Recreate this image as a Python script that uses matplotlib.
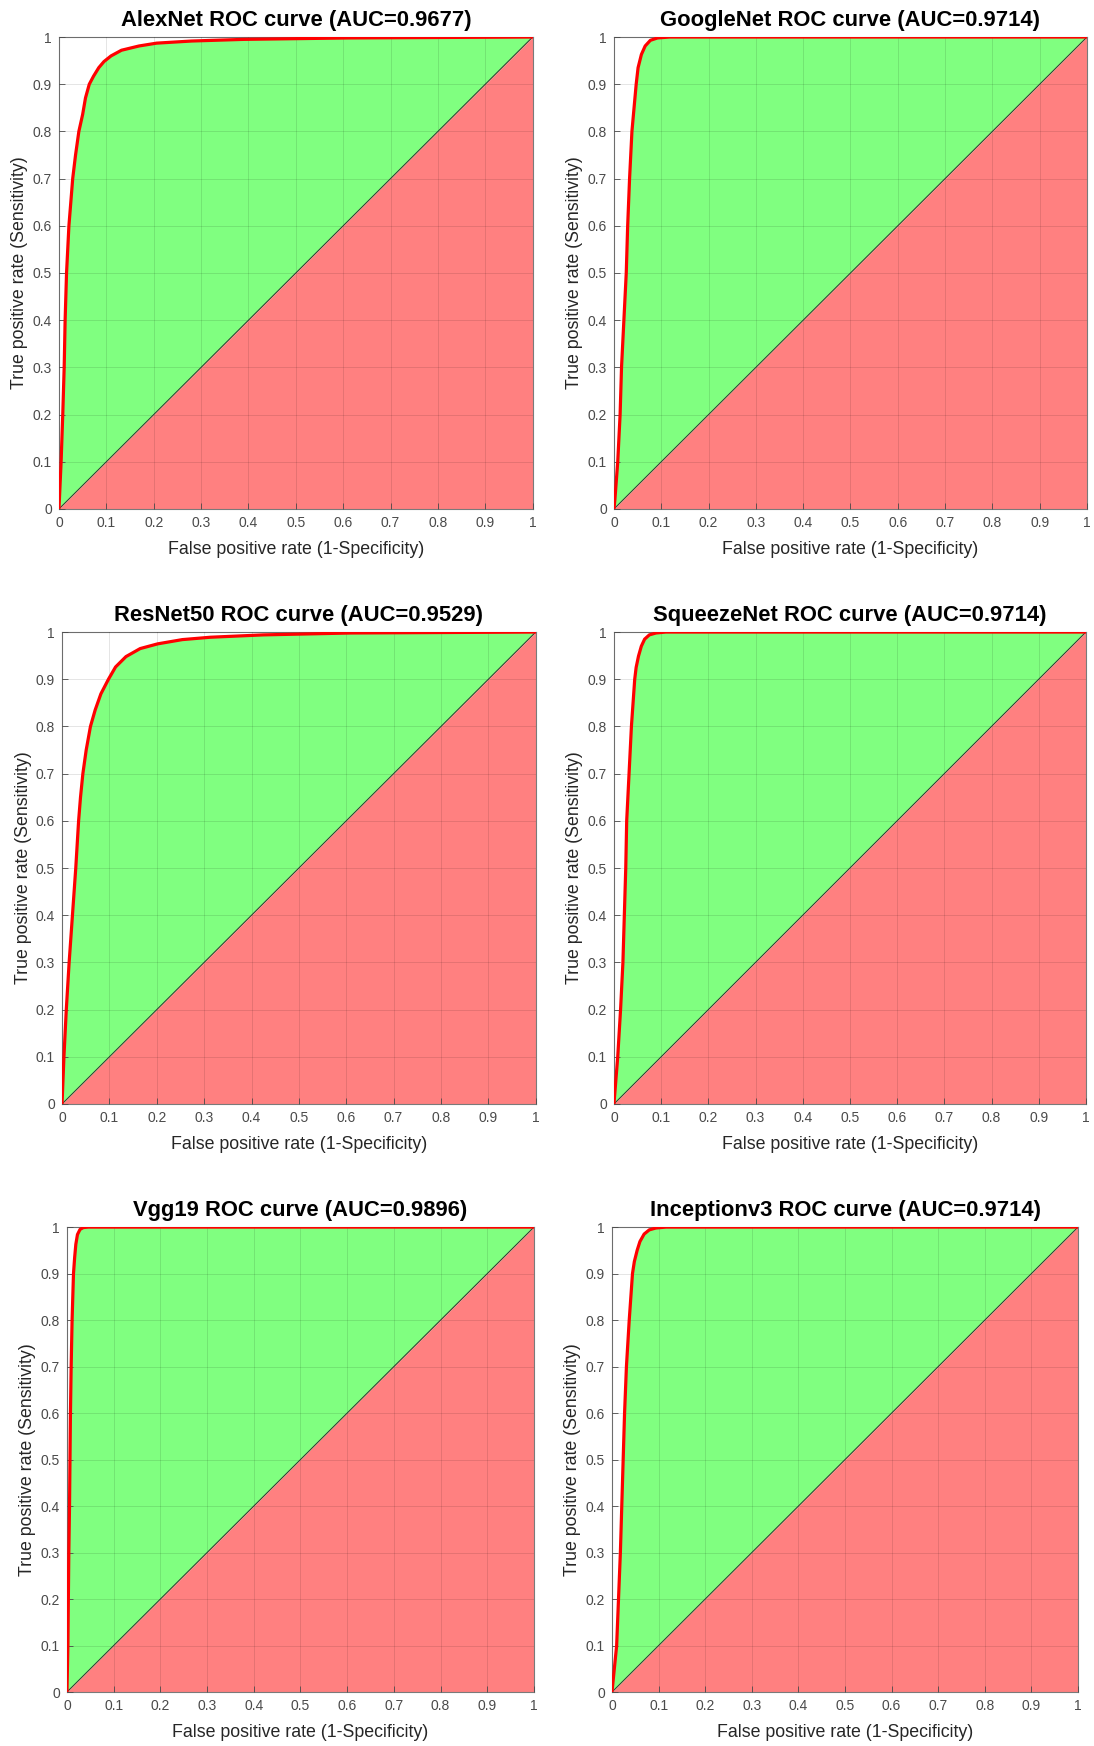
import numpy as np
import matplotlib.pyplot as plt

plt.rcParams['font.family'] = ['Liberation Sans', 'DejaVu Sans']

# model names and AUC values shown in the titles
MODELS = ['AlexNet', 'GoogleNet', 'ResNet50', 'SqueezeNet', 'Vgg19', 'Inceptionv3']
AUC = ['0.9677', '0.9714', '0.9529', '0.9714', '0.9896', '0.9714']

# ROC curve points (false positive rate, true positive rate)
alexnet_fpr = [0, .0045, .008, .011, .013, .016, .021, .025, .029, .035, .042, .050, .056, .064,
               .073, .084, .095, .11, .132, .169, .206, .28, .39, .61, 1]
alexnet_tpr = [0, .1, .2, .3, .4, .5, .6, .65, .7, .75, .8, .836, .871, .9,
               .917, .935, .948, .96, .972, .981, .987, .9915, .995, .998, 1]

googlenet_fpr = [0, .002, .008, .013, .016, .021, .026, .029, .033, .038, .047, .051, .058,
                 .066, .077, .092, .118, 1]
googlenet_tpr = [0, .02, .1, .2, .3, .4, .5, .6, .7, .8, .9, .935, .963,
                 .981, .993, .998, 1, 1]

resnet50_fpr = [0, .004, .009, .015, .022, .029, .035, .039, .044, .051, .060, .070, .082, .098,
                .113, .135, .165, .202, .254, .313, .425, .61, 1]
resnet50_tpr = [0, .1, .2, .3, .4, .5, .6, .65, .7, .75, .8, .835, .869, .9,
                .926, .948, .965, .975, .984, .989, .994, .998, 1]

squeezenet_fpr = [0, .008, .014, .019, .022, .025, .027, .032, .037, .044, .047, .052, .058,
                  .065, .075, .089, .11, 1]
squeezenet_tpr = [0, .1, .2, .3, .4, .5, .6, .7, .8, .9, .925, .949, .97,
                  .985, .994, .998, 1, 1]

vgg19_fpr = [0, .002, .003, .004, .0055, .0065, .0075, .009, .011, .014, .0165, .019, .0225,
             .028, .035, .046, 1]
vgg19_tpr = [0, .1, .2, .3, .4, .5, .6, .7, .8, .9, .935, .963, .984,
             .995, .999, 1, 1]

inception_fpr = [0, .010, .014, .018, .021, .024, .027, .031, .037, .044, .048, .054, .060,
                 .069, .080, .094, .116, 1]
inception_tpr = [0, .1, .2, .3, .4, .5, .6, .7, .8, .9, .926, .95, .969,
                 .985, .994, .998, 1, 1]

CURVES = [(alexnet_fpr, alexnet_tpr), (googlenet_fpr, googlenet_tpr),
          (resnet50_fpr, resnet50_tpr), (squeezenet_fpr, squeezenet_tpr),
          (vgg19_fpr, vgg19_tpr), (inception_fpr, inception_tpr)]

TICKS = np.round(np.arange(0, 1.01, 0.1), 1)
TICK_LABELS = ['0', '0.1', '0.2', '0.3', '0.4', '0.5', '0.6', '0.7', '0.8', '0.9', '1']

# axes boxes in figure fractions [left, bottom, width, height]
BOXES = [
    [0.0539, 0.7085, 0.4330, 0.2703],
    [0.5612, 0.7085, 0.4324, 0.2703],
    [0.0567, 0.3677, 0.4330, 0.2703],
    [0.5612, 0.3677, 0.4314, 0.2703],
    [0.0612, 0.0309, 0.4269, 0.2663],
    [0.5594, 0.0309, 0.4260, 0.2663],
]

fig = plt.figure(figsize=(10.94, 17.46), dpi=100)

for name, auc, (fpr, tpr), box in zip(MODELS, AUC, CURVES, BOXES):
    ax = fig.add_axes(box)
    fpr = np.array(fpr)
    tpr = np.array(tpr)
    diag = np.array([0, 1])

    ax.fill_between(fpr, tpr, fpr, color='#80ff80', lw=0, zorder=1)
    ax.fill_between(diag, diag, 0, color='#ff8080', lw=0, zorder=1)
    ax.plot(diag, diag, color='#303030', lw=0.7, zorder=3)
    ax.plot(fpr, tpr, color='#ff0000', lw=2.3, zorder=4,
            solid_joinstyle='round', solid_capstyle='round')

    ax.set_xlim(0, 1)
    ax.set_ylim(0, 1)
    ax.set_xticks(TICKS)
    ax.set_yticks(TICKS)
    ax.set_xticklabels(TICK_LABELS)
    ax.set_yticklabels(TICK_LABELS)
    ax.tick_params(direction='in', length=4, width=0.6, colors='#4a4a4a',
                   labelsize=10, pad=5)
    ax.set_axisbelow(False)
    ax.grid(True, color='black', alpha=0.12, lw=0.6)
    for s in ax.spines.values():
        s.set_color('#7a7a7a')
        s.set_linewidth(0.8)

    ax.set_title(f'{name} ROC curve (AUC={auc})', fontsize=15.8,
                 fontweight='bold', pad=8)
    ax.set_xlabel('False positive rate (1-Specificity)', fontsize=12.8,
                  color='#262626', labelpad=8)
    ax.set_ylabel('True positive rate (Sensitivity)', fontsize=12.8,
                  color='#262626', labelpad=3)

fig.savefig('out.png', dpi=100)
